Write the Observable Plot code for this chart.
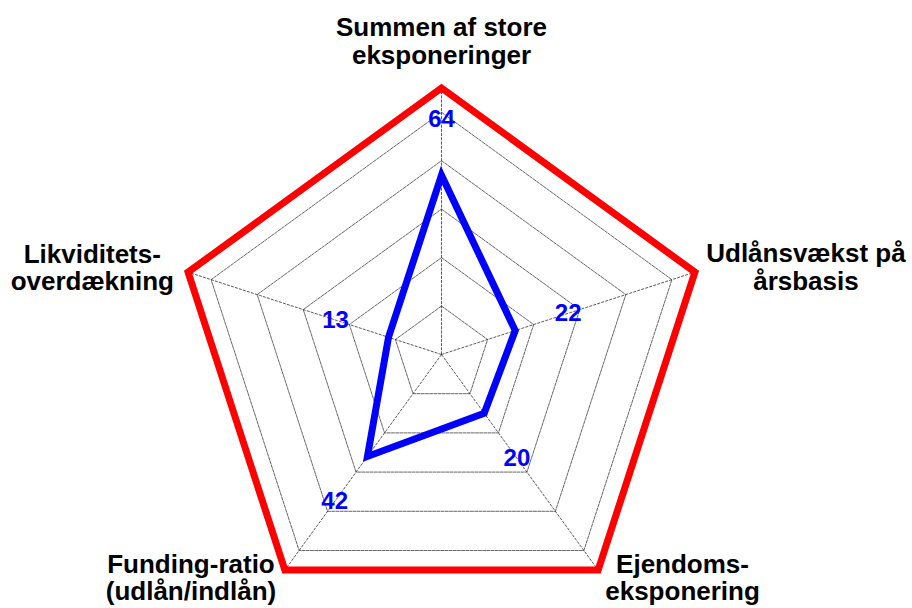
<!DOCTYPE html>
<html>
<head>
<meta charset="utf-8">
<script src="https://cdn.jsdelivr.net/npm/d3@7"></script>
<script src="https://cdn.jsdelivr.net/npm/@observablehq/plot@0.6"></script>
<style>
  html, body { margin: 0; padding: 0; background: #fff; }
  svg { display: block; }
</style>
</head>
<body>
<div id="chart"></div>
<script>
// ---- data ----
const categories = [
  "Summen af store\neksponeringer",
  "Udlånsvækst på\nårsbasis",
  "Ejendoms-\neksponering",
  "Funding-ratio\n(udlån/indlån)",
  "Likviditets-\noverdækning"
];
const values = [64, 22, 20, 42, 13];
const limits = [100, 100, 100, 100, 100];
const gridLevels = [10, 30, 50, 70, 90];
const axisMin = -10;
const axisMax = 100;

// ---- layout / style (not data) ----
const W = 912, H = 608;
const cx = 441, cy = 354;          // centre in px
const k = 2.4225;                  // px per value unit
const labelOffset = 23;            // value-label distance outward (value units)
const axisLabelOffsets = [[0, -24], [111, 17.6], [84.4, 30.4], [-93.9, 30.4], [-95.8, 18.3]];
const font = "Liberation Sans, Arial, Helvetica, sans-serif";

const n = categories.length;
const ang = i => (i * 2 * Math.PI) / n;
const px = (v, i) => (v - axisMin) * Math.sin(ang(i));
const py = (v, i) => (v - axisMin) * Math.cos(ang(i));

const series = values.map((v, i) => ({i, v, x: px(v, i), y: py(v, i)}));
const limitPts = limits.map((v, i) => ({i, v, x: px(v, i), y: py(v, i)}));
const rings = gridLevels.flatMap(g => categories.map((c, i) => ({g, x: px(g, i), y: py(g, i)})));
const spokes = categories.map((c, i) => ({x1: 0, y1: 0, x2: px(axisMax, i), y2: py(axisMax, i)}));
const valueLabels = values.map((v, i) => ({v, x: px(v + labelOffset, i), y: py(v + labelOffset, i)}));

const axisLabelMarks = categories.map((c, i) =>
  Plot.text([limitPts[i]], {
    x: "x", y: "y", text: () => c,
    dx: axisLabelOffsets[i][0], dy: axisLabelOffsets[i][1],
    textAnchor: "middle", lineAnchor: "bottom", lineHeight: 1.06,
    fontSize: 26, fontWeight: "bold", fontFamily: font, fill: "#000"
  })
);

const chart = Plot.plot({
  width: W, height: H,
  margin: 0,
  style: {background: "#fff", fontFamily: font},
  x: {domain: [-cx / k, (W - cx) / k], axis: null},
  y: {domain: [-(H - cy) / k, cy / k], axis: null},
  marks: [
    ...axisLabelMarks,
    Plot.line(rings, {x: "x", y: "y", z: "g", curve: "linear-closed",
      stroke: "#333", strokeWidth: 0.75, strokeDasharray: "3,1.2"}),
    Plot.link(spokes, {x1: "x1", y1: "y1", x2: "x2", y2: "y2",
      stroke: "#222", strokeWidth: 0.75, strokeDasharray: "3,1.2"}),
    Plot.line(limitPts, {x: "x", y: "y", curve: "linear-closed",
      stroke: "#FF0000", strokeWidth: 7, strokeLinejoin: "miter", strokeMiterlimit: 10}),
    Plot.line(series, {x: "x", y: "y", curve: "linear-closed",
      stroke: "#0000FF", strokeWidth: 7, strokeLinejoin: "miter", strokeMiterlimit: 10}),
    Plot.text(valueLabels, {x: "x", y: "y", text: d => String(d.v),
      textAnchor: "middle", lineAnchor: "middle",
      fontSize: 24, fontWeight: "bold", fontFamily: font, fill: "#0000FF"})
  ]
});
document.getElementById("chart").appendChild(chart);
</script>
</body>
</html>
